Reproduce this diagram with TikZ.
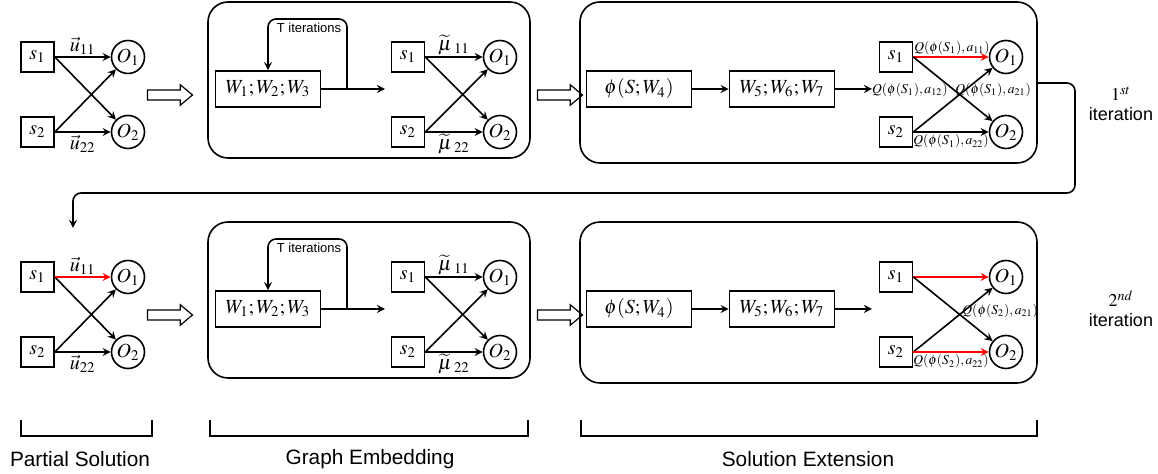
\documentclass[tikz,border=0pt]{standalone}
\usepackage{amsmath}
\usepackage{mathptmx}
\usepackage[no-math]{fontspec}
\setsansfont{Liberation Sans}
\usetikzlibrary{shapes.arrows}

\begin{document}
\begin{tikzpicture}[x=0.5pt,y=-0.5pt,>=stealth,
			sq node/.style={draw,thick,minimum width=16.5pt,minimum height=15pt,inner sep=1pt},
			o node/.style={circle,draw,thick,minimum size=16.5pt,inner sep=0pt},
			w node/.style={draw,thick,minimum width=52.5pt,minimum height=18pt,inner sep=2pt},
			stage box/.style={draw,thick,rounded corners=10pt},
			hollow arrow/.style={single arrow,draw,semithick,minimum height=22.5pt,inner sep=2.2pt,single arrow head extend=2.6pt,single arrow tip angle=80},
			q label/.style={font=\fontsize{6.8}{8}\selectfont,inner sep=1pt},
			iter label/.style={font=\sffamily\fontsize{6.5}{8}\selectfont,inner sep=1pt},
			side label/.style={align=center,font=\sffamily\fontsize{9}{10}\selectfont},
			caption/.style={font=\sffamily\fontsize{10.4}{12}\selectfont},
			edge/.style={->,thick},
			red edge/.style={->,thick,draw=red}
			]
			
			\useasboundingbox (0,0) rectangle (1158,474);
			
			\foreach \r/\y in {1/0,2/220} {
				% partial solution
				\node[sq node] (ps1-\r) at (37.5,57+\y) {$s_1$};
				\node[sq node] (ps2-\r) at (37.5,132+\y) {$s_2$};
				\node[o node] (pO1-\r) at (128,57+\y) {$O_1$};
				\node[o node] (pO2-\r) at (128,132+\y) {$O_2$};
				\draw[edge] (ps1-\r.east) -- (pO2-\r);
				\draw[edge] (ps2-\r.east) -- (pO1-\r);
				\draw[edge] (ps2-\r.east) -- node[below,inner sep=1pt] {$\vec{u}_{22}$} (pO2-\r);
				\node[hollow arrow] (ha1-\r) at (167,95+\y) {};
				
				% graph embedding
				\draw[stage box] (208,2+\y) rectangle (530,158+\y);
				\node[w node] (gW-\r) at (268,89+\y) {$W_1;W_2;W_3$};
				\coordinate (gJ-\r) at (347,89+\y);
				\coordinate (gTop-\r) at (268,19+\y);
				\coordinate (gEnd-\r) at (385,89+\y);
				\draw[edge] (gW-\r.east) -- (gEnd-\r);
				\draw[edge,rounded corners=4pt] (gJ-\r) |- (gTop-\r) -- (gW-\r.north);
				\node[iter label] (gT-\r) at (309,28+\y) {T iterations};
				\node[sq node] (gs1-\r) at (408,57+\y) {$s_1$};
				\node[sq node] (gs2-\r) at (408,132+\y) {$s_2$};
				\node[o node] (gO1-\r) at (500,57+\y) {$O_1$};
				\node[o node] (gO2-\r) at (500,132+\y) {$O_2$};
				\draw[edge] (gs1-\r.east) -- node[above,inner sep=0.5pt] {$\widetilde{\mu}\,{}_{11}$} (gO1-\r);
				\draw[edge] (gs1-\r.east) -- (gO2-\r);
				\draw[edge] (gs2-\r.east) -- (gO1-\r);
				\draw[edge] (gs2-\r.east) -- node[below,inner sep=0.5pt] {$\widetilde{\mu}\,{}_{22}$} (gO2-\r);
				\node[hollow arrow] (ha2-\r) at (557,95+\y) {};
				
				% solution extension
				\draw[stage box] (580,2+\y) rectangle (1037,163+\y);
				\node[w node] (ephi-\r) at (639,89+\y) {$\phi(S;W_4)$};
				\node[w node] (eW-\r) at (782,89+\y) {$W_5;W_6;W_7$};
				\coordinate (eEnd-\r) at (872,89+\y);
				\draw[edge] (ephi-\r) -- (eW-\r);
				\draw[edge] (eW-\r) -- (eEnd-\r);
				\node[sq node] (es1-\r) at (896,57+\y) {$s_1$};
				\node[sq node] (es2-\r) at (896,132+\y) {$s_2$};
				\node[o node] (eO1-\r) at (1006,57+\y) {$O_1$};
				\node[o node] (eO2-\r) at (1006,132+\y) {$O_2$};
				\draw[red edge] (es1-\r.east) -- (eO1-\r);
				\draw[edge] (es1-\r.east) -- (eO2-\r);
				\draw[edge] (es2-\r.east) -- (eO1-\r);
			}
			
			% first iteration
			\draw[edge] (ps1-1.east) -- node[above,inner sep=1pt] {$\vec{u}_{11}$} (pO1-1);
			\draw[edge] (es2-1.east) -- node[q label,below] {$Q(\phi(S_1),a_{22})$} (eO2-1);
			\node[q label,above] (qa11) at (952,57) {$Q(\phi(S_1),a_{11})$};
			\node[q label,anchor=east] (qa12) at (950,90) {$Q(\phi(S_1),a_{12})$};
			\node[q label,anchor=west] (qa21) at (953,90) {$Q(\phi(S_1),a_{21})$};
			\node[side label] (it1) at (1121,104) {$1^{st}$\\iteration};
			
			% second iteration
			\draw[red edge] (ps1-2.east) -- node[above,inner sep=1pt,black] {$\vec{u}_{11}$} (pO1-2);
			\draw[red edge] (es2-2.east) -- node[q label,below,black] {$Q(\phi(S_2),a_{22})$} (eO2-2);
			\node[q label,anchor=west] (qb21) at (960,311) {$Q(\phi(S_2),a_{21})$};
			\node[side label] (it2) at (1121,309) {$2^{nd}$\\iteration};
			
			% from 1st to 2nd
			\coordinate (loopStart) at (1037,83);
			\coordinate (loopEnd) at (73,228);
			\draw[edge,rounded corners=4pt] (loopStart) -| (1075,193) -| (loopEnd);
			
			% stages
			\draw[thick] (21,420) |- (152,436) -- (152,420);
			\draw[thick] (210,420) |- (528,436) -- (528,420);
			\draw[thick] (581,420) |- (1037,436) -- (1037,420);
			\node[caption] (cap1) at (80,459) {Partial Solution};
			\node[caption] (cap2) at (370,459) {Graph Embedding};
			\node[caption] (cap3) at (808,459) {Solution Extension};
\end{tikzpicture}
\end{document}
